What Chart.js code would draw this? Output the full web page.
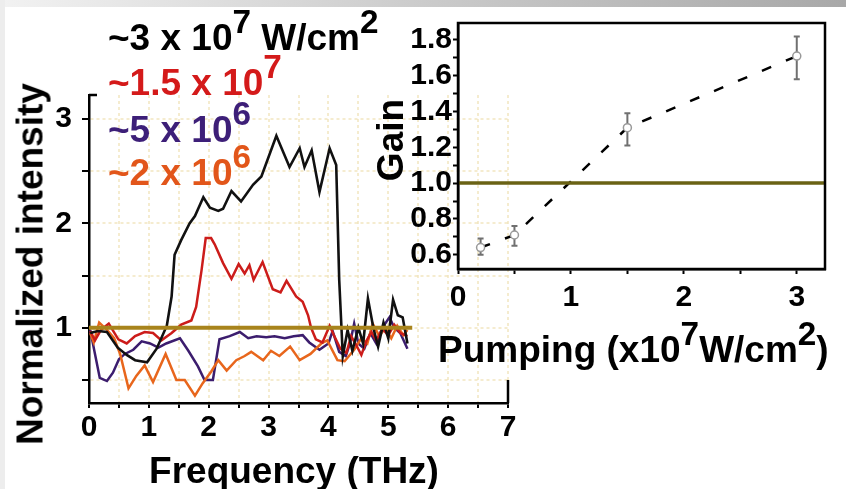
<!DOCTYPE html>
<html>
<head>
<meta charset="utf-8">
<title>Normalized intensity and gain</title>
<script src="https://cdn.jsdelivr.net/npm/chart.js@4.4.1/dist/chart.umd.min.js"></script>
<style>
  html, body { margin:0; padding:0; background:#fff; }
  body { width:846px; height:489px; position:relative; overflow:hidden; font-family:"Liberation Sans", Arial, sans-serif; font-weight:bold; }
  #topband { position:absolute; left:0; top:0; width:846px; height:7px; background:linear-gradient(to right,#f2f2f2,#cbcbcb 50%,#a8a8a8); }
  #leftband { position:absolute; left:0; top:0; width:5px; height:489px; background:#ededed; }
  canvas { position:absolute; }
  #main { left:0; top:0; }
  #inset { left:380px; top:0; }
  .txt { position:absolute; white-space:nowrap; line-height:1; font-size:37px; }
  .sup { font-size:0.9em; position:relative; top:-0.5em; }
  .rot { transform:translate(-50%,-50%) rotate(-90deg); }
</style>
</head>
<body>
<div id="topband"></div>
<div id="leftband"></div>
<canvas id="main" width="530" height="489"></canvas>
<canvas id="inset" width="466" height="330"></canvas>

<div class="txt" style="left:108px;top:19px;color:#000">~3 x 10<span class="sup">7</span> W/cm<span class="sup">2</span></div>
<div class="txt" style="left:108px;top:64px;color:#d41a1a">~1.5 x 10<span class="sup">7</span></div>
<div class="txt" style="left:108px;top:111px;color:#3d1f78">~5 x 10<span class="sup">6</span></div>
<div class="txt" style="left:108px;top:154px;color:#e2561a">~2 x 10<span class="sup">6</span></div>

<div class="txt rot" style="left:30px;top:264px">Normalized intensity</div>
<div class="txt" style="left:294px;top:452px;transform:translateX(-50%)">Frequency (THz)</div>
<div class="txt rot" style="left:390px;top:140px">Gain</div>
<div class="txt" style="left:438px;top:331px">Pumping (x10<span class="sup">7</span>W/cm<span class="sup">2</span>)</div>

<script>
// main panel: frequency (THz) vs normalized intensity, one [freq, intensity] list per pump level
const freqTicks = [0, 0.5, 1, 1.5, 2, 2.5, 3, 3.5, 4, 4.5, 5, 5.5, 6, 6.5, 7];
const intensityTicks = [0.5, 1, 1.5, 2, 2.5, 3];

const pump3e7 = [[0.02,0.95],[0.15,0.97],[0.3,0.96],[0.48,0.81],[0.63,0.74],[0.77,0.69],[0.97,0.67],[1.13,0.8],[1.3,1.02],[1.38,1.3],[1.43,1.7],[1.54,1.84],[1.68,2.0],[1.77,2.07],[1.91,2.25],[2.02,2.15],[2.16,2.12],[2.24,2.14],[2.38,2.31],[2.54,2.21],[2.74,2.37],[2.88,2.45],[3.13,2.84],[3.35,2.54],[3.52,2.72],[3.6,2.54],[3.72,2.7],[3.85,2.3],[4.02,2.72],[4.13,2.56],[4.18,1.46],[4.24,0.73],[4.32,0.98],[4.4,0.78],[4.5,1.0],[4.58,0.85],[4.66,1.28],[4.75,1.0],[4.83,0.82],[4.92,1.05],[5.0,0.9],[5.08,1.27],[5.16,1.12],[5.24,1.1],[5.32,0.85]];
const pump15e6 = [[0.02,0.97],[0.1,0.88],[0.2,0.98],[0.33,1.04],[0.49,0.89],[0.63,0.85],[0.77,0.92],[0.93,0.96],[1.07,0.95],[1.21,0.88],[1.38,0.95],[1.54,1.03],[1.71,1.07],[1.79,1.2],[1.88,1.55],[1.95,1.86],[2.04,1.86],[2.1,1.8],[2.24,1.62],[2.38,1.47],[2.5,1.61],[2.6,1.52],[2.68,1.6],[2.75,1.46],[2.9,1.63],[3.07,1.37],[3.2,1.34],[3.3,1.45],[3.46,1.3],[3.57,1.25],[3.66,1.12],[3.71,1.0],[3.79,0.89],[3.9,0.86],[4.02,1.02],[4.1,0.92],[4.2,0.8],[4.3,0.76],[4.38,0.92],[4.46,0.84],[4.55,0.74],[4.64,0.88],[4.72,0.96],[4.8,0.88],[4.9,0.99],[5.0,0.93],[5.1,1.03],[5.2,0.95],[5.32,0.92]];
const pump5e6 = [[0.02,0.98],[0.1,0.75],[0.18,0.52],[0.3,0.49],[0.4,0.57],[0.5,0.7],[0.6,0.75],[0.74,0.79],[0.88,0.87],[1.02,0.85],[1.16,0.81],[1.29,0.85],[1.52,0.9],[1.66,0.78],[1.82,0.63],[1.93,0.5],[2.07,0.5],[2.18,0.89],[2.35,0.92],[2.52,0.96],[2.66,0.9],[2.8,0.92],[2.96,0.91],[3.1,0.92],[3.27,0.9],[3.42,0.92],[3.57,0.93],[3.68,0.86],[3.85,0.79],[4.0,0.85],[4.07,0.97],[4.18,0.77],[4.29,0.73],[4.36,0.85],[4.43,1.04],[4.5,0.85],[4.6,0.8],[4.7,0.95],[4.8,0.85],[4.9,1.0],[5.02,1.1],[5.1,1.0],[5.2,0.95],[5.32,0.8]];
const pump2e6 = [[0.02,0.95],[0.08,0.86],[0.17,1.05],[0.3,0.98],[0.42,0.9],[0.52,0.75],[0.66,0.42],[0.79,0.54],[0.93,0.64],[1.07,0.48],[1.28,0.75],[1.46,0.5],[1.6,0.5],[1.77,0.35],[1.9,0.47],[2.04,0.58],[2.16,0.69],[2.3,0.59],[2.46,0.69],[2.6,0.73],[2.71,0.77],[2.91,0.69],[3.04,0.78],[3.18,0.73],[3.36,0.82],[3.52,0.69],[3.7,0.75],[3.88,0.85],[3.98,0.88],[4.15,0.69],[4.27,0.68],[4.43,0.79],[4.55,0.9],[4.65,0.85],[4.74,1.04],[4.85,0.92],[4.95,1.0],[5.05,0.9],[5.15,1.02],[5.25,0.93],[5.32,0.98]];
const unityLevel = 1;
const unitySpan = [0, 5.4];

// inset: gain vs pumping (x10^7 W/cm^2)
const pumping = [0.2, 0.5, 1.5, 3.0];
const gain = [0.64, 0.71, 1.31, 1.71];
const gainLow = [0.60, 0.65, 1.21, 1.58];
const gainHigh = [0.69, 0.76, 1.39, 1.82];
const pumpTicks = [0, 0.5, 1, 1.5, 2, 2.5, 3];
const gainTicks = [0.6, 0.7, 0.8, 0.9, 1.0, 1.1, 1.2, 1.3, 1.4, 1.5, 1.6, 1.7, 1.8];
const pumpRange = [0, 3.25];

const bold = size => ({family: '"Liberation Sans", Arial, sans-serif', size, weight: 'bold'});
const pts = arr => arr.map(([x, y]) => ({x, y}));
const series = (data, color, width) => ({data, showLine: true, borderColor: color, borderWidth: width, pointRadius: 0, fill: false});

// little frame stubs at the top of the y axis and right end of the x axis
const cornerMarks = {
  id: 'cornerMarks',
  afterDraw(chart) {
    const {ctx, chartArea: a} = chart;
    ctx.save();
    ctx.strokeStyle = '#000'; ctx.lineWidth = 2.5;
    ctx.beginPath();
    ctx.moveTo(a.right, a.bottom - 23); ctx.lineTo(a.right, a.bottom);
    ctx.moveTo(a.left, a.top); ctx.lineTo(a.left + 8, a.top);
    ctx.stroke();
    ctx.restore();
  }
};

const boxFrame = {
  id: 'boxFrame',
  afterDraw(chart) {
    const {ctx, chartArea: a} = chart;
    ctx.save();
    ctx.strokeStyle = '#000'; ctx.lineWidth = 2.5;
    ctx.strokeRect(a.left, a.top, a.right - a.left, a.bottom - a.top);
    ctx.restore();
  }
};

const errorBars = {
  id: 'errorBars',
  beforeDatasetsDraw(chart) {
    const {ctx, scales: {x, y}} = chart;
    ctx.save();
    ctx.strokeStyle = '#707070'; ctx.lineWidth = 2;
    pumping.forEach((p, i) => {
      const px = x.getPixelForValue(p);
      const lo = y.getPixelForValue(gainLow[i]), hi = y.getPixelForValue(gainHigh[i]);
      ctx.beginPath();
      ctx.moveTo(px, lo); ctx.lineTo(px, hi);
      ctx.moveTo(px - 3, lo); ctx.lineTo(px + 3, lo);
      ctx.moveTo(px - 3, hi); ctx.lineTo(px + 3, hi);
      ctx.stroke();
    });
    ctx.restore();
  }
};

new Chart(document.getElementById('main'), {
  type: 'scatter',
  data: {
    datasets: [
      series(unitySpan.map(x => ({x, y: unityLevel})), '#a8841c', 4),
      series(pts(pump3e7), '#111111', 2.6),
      series(pts(pump15e6), '#cc1c1a', 2.5),
      series(pts(pump2e6), '#e8661c', 2.5),
      series(pts(pump5e6), '#3c1d6e', 2.5)
    ]
  },
  options: {
    responsive: false,
    animation: false,
    layout: {padding: {left: 0, top: 95, right: 22, bottom: 0}},
    plugins: {legend: {display: false}, tooltip: {enabled: false}},
    scales: {
      x: {
        type: 'linear', min: 0, max: 7,
        afterBuildTicks: s => { s.ticks = freqTicks.map(v => ({value: v})); },
        afterFit: s => { s.height = 86; },
        ticks: {font: bold(30), color: '#000', padding: 2, maxRotation: 0, autoSkip: false,
                callback: v => Number.isInteger(v) ? v : ''},
        grid: {color: 'rgba(236,218,160,0.5)', lineWidth: 2, tickColor: '#000', tickLength: 5, tickWidth: 2},
        border: {color: '#000', width: 2.5, dash: [3, 3]}
      },
      y: {
        type: 'linear', min: 0.28, max: 3.23,
        afterBuildTicks: s => { s.ticks = intensityTicks.map(v => ({value: v})); },
        afterFit: s => { s.width = 89; },
        ticks: {font: bold(30), color: '#000', padding: 10, autoSkip: false,
                callback: v => Number.isInteger(v) ? v : ''},
        grid: {color: 'rgba(236,218,160,0.5)', lineWidth: 2, tickColor: '#000', tickLength: 7, tickWidth: 2},
        border: {color: '#000', width: 2.5, dash: [3, 3]}
      }
    }
  },
  plugins: [cornerMarks]
});

new Chart(document.getElementById('inset'), {
  type: 'scatter',
  data: {
    datasets: [
      series(pumpRange.map(x => ({x, y: 1})), '#6a6214', 3.5),
      {
        data: pumping.map((x, i) => ({x, y: gain[i]})),
        showLine: true, borderColor: '#000', borderWidth: 2.5, borderDash: [10, 16],
        pointRadius: 4, pointBorderWidth: 1.5, pointBorderColor: '#999', pointBackgroundColor: '#fff'
      }
    ]
  },
  options: {
    responsive: false,
    animation: false,
    layout: {padding: {left: 0, top: 23, right: 21, bottom: 0}},
    plugins: {legend: {display: false}, tooltip: {enabled: false}},
    scales: {
      x: {
        type: 'linear', min: pumpRange[0], max: pumpRange[1],
        afterBuildTicks: s => { s.ticks = pumpTicks.map(v => ({value: v})); },
        afterFit: s => { s.height = 61; },
        ticks: {font: bold(30), color: '#000', padding: 6, maxRotation: 0, autoSkip: false,
                callback: v => Number.isInteger(v) ? v : ''},
        grid: {drawOnChartArea: false, tickColor: '#000', tickLength: 5, tickWidth: 2},
        border: {color: '#000', width: 2.5}
      },
      y: {
        type: 'linear', min: 0.52, max: 1.895,
        afterBuildTicks: s => { s.ticks = gainTicks.map(v => ({value: v})); },
        afterFit: s => { s.width = 78; },
        ticks: {font: bold(30), color: '#000', padding: 1, autoSkip: false,
                callback: v => Math.round(v * 10) % 2 === 0 ? v.toFixed(1) : ''},
        grid: {drawOnChartArea: false, tickColor: '#000', tickLength: 5, tickWidth: 2},
        border: {color: '#000', width: 2.5}
      }
    }
  },
  plugins: [errorBars, boxFrame]
});
</script>
</body>
</html>
